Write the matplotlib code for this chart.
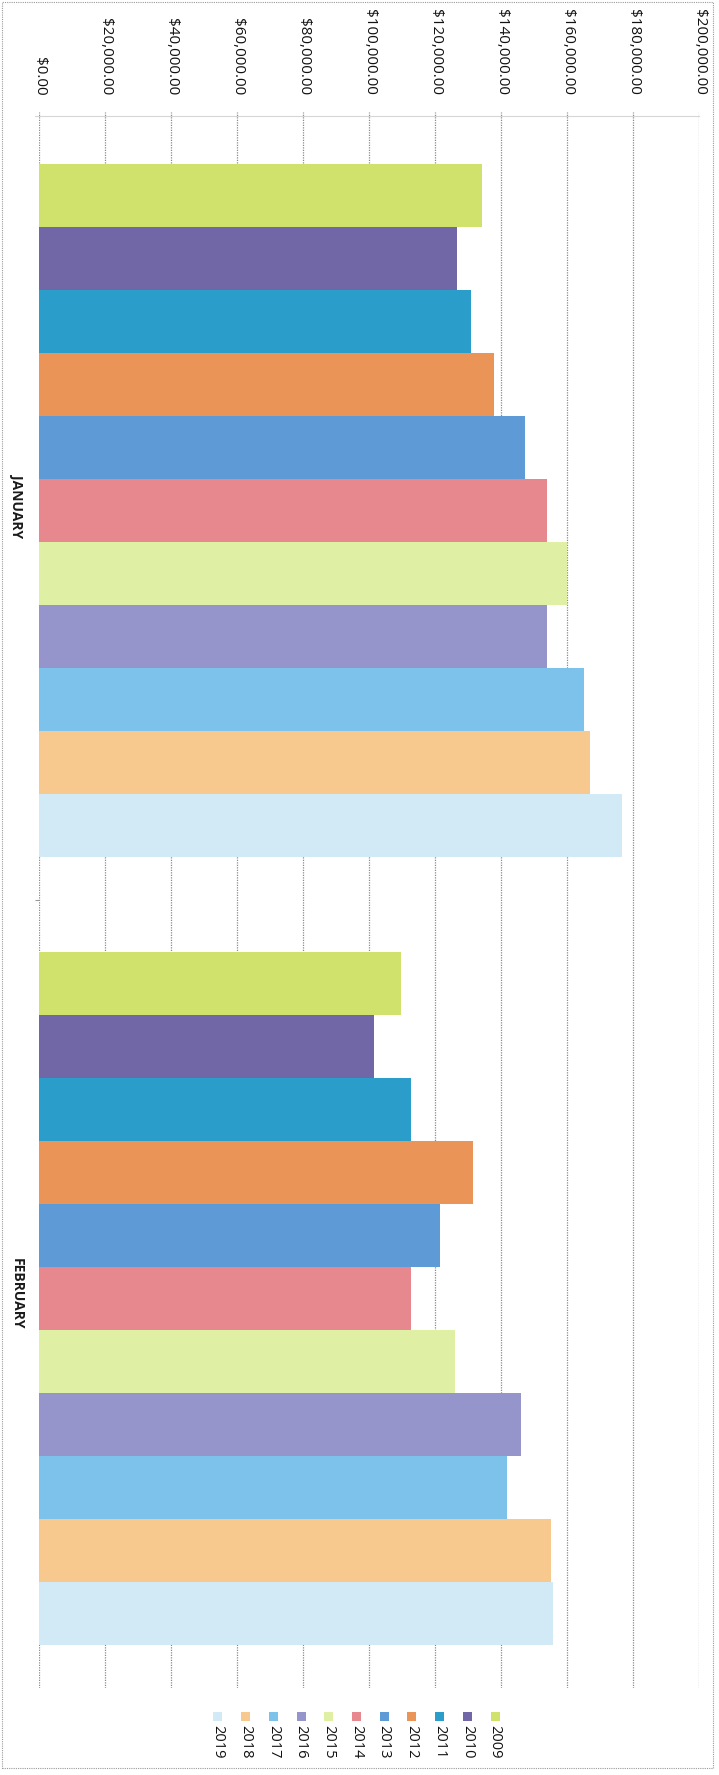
import matplotlib.pyplot as plt
import matplotlib.patches as mpatches
from matplotlib.ticker import FuncFormatter
import numpy as np

plt.rcParams['font.family'] = ['Open Sans', 'DejaVu Sans']

months = ['JANUARY', 'FEBRUARY']
years = ['2009', '2010', '2011', '2012', '2013', '2014',
         '2015', '2016', '2017', '2018', '2019']
jan_sales = [134300, 126600, 130800, 138000, 147400, 153800,
             160000, 154000, 165200, 167000, 176800]
feb_sales = [109600, 101500, 112600, 131500, 121400, 112600,
             126200, 146000, 141700, 155100, 155800]
value_ticks = [0, 20000, 40000, 60000, 80000, 100000,
               120000, 140000, 160000, 180000, 200000]

colors = ['#D0E26C', '#7267A6', '#2A9DCA', '#EA9458', '#5E9BD6', '#E7888F',
          '#DFEFA3', '#9595CB', '#7CC2EA', '#F7C98F', '#D2EAF6']

W, H = 719, 1775
fig = plt.figure(figsize=(W / 100, H / 100), dpi=100)
fig.patch.set_facecolor('white')

# the sheet is printed turned a quarter turn, so columns run sideways
left, right, top, bottom = 39, 699, 112, 1688
ax = fig.add_axes([left / W, 1 - bottom / H, (right - left) / W, (bottom - top) / H])

bar_h = 0.0799
sales = np.array([jan_sales, feb_sales])
for j, (yr, col) in enumerate(zip(years, colors)):
    ypos = np.arange(len(months)) + 0.506 + (j - 5) * bar_h
    ax.barh(ypos, sales[:, j], height=bar_h, color=col, label=yr, zorder=2)

ax.set_xlim(0, 200000)
ax.set_ylim(len(months), 0)

ax.xaxis.tick_top()
ax.set_xticks(value_ticks)
ax.xaxis.set_major_formatter(FuncFormatter(lambda v, p: f'${v:,.2f}'))
ax.tick_params(axis='x', length=0, pad=12, labelsize=11, colors='#111111')
for lab in ax.get_xticklabels():
    lab.set_rotation(-90)
    lab.set_va('bottom')
    lab.set_ha('center')

ax.set_yticks(np.arange(len(months)) + 0.5)
ax.set_yticklabels(months, rotation=-90, va='center', fontsize=10,
                   fontweight='bold', color='#1a1a1a')
ax.tick_params(axis='y', length=0, pad=11)
ax.set_yticks([1], minor=True)
ax.tick_params(axis='y', which='minor', length=3, color='#999999', width=0.8)

ax.grid(axis='x', color='#8a8a8a', linestyle=(0, (1, 1)), linewidth=0.9, zorder=0)
for s in ax.spines.values():
    s.set_visible(False)

# faint rule under the value labels
fig.add_artist(plt.Line2D([35 / W, right / W], [1 - 116 / H, 1 - 116 / H],
                          color='#d6d6d6', linewidth=0.8))

# legend, one entry per year, read top to bottom in the turned sheet
x0, dx = 495, 27.7
for k, (yr, col) in enumerate(zip(years, colors)):
    xc = x0 - k * dx
    fig.add_artist(mpatches.Rectangle(((xc - 4.5) / W, 1 - 1721 / H), 9 / W, 9 / H,
                                      facecolor=col, edgecolor='none'))
    fig.text(xc / W, 1 - 1725 / H, yr, rotation=-90, ha='center', va='top',
             fontsize=10.5, color='#111111')

# dotted chart border
fig.add_artist(mpatches.Rectangle((1.5 / W, 1 - 1768 / H), 711 / W, 1766 / H,
                                  fill=False, edgecolor='#9a9a9a',
                                  linestyle=(0, (1, 1)), linewidth=0.8))

fig.savefig('out.png', dpi=100)
